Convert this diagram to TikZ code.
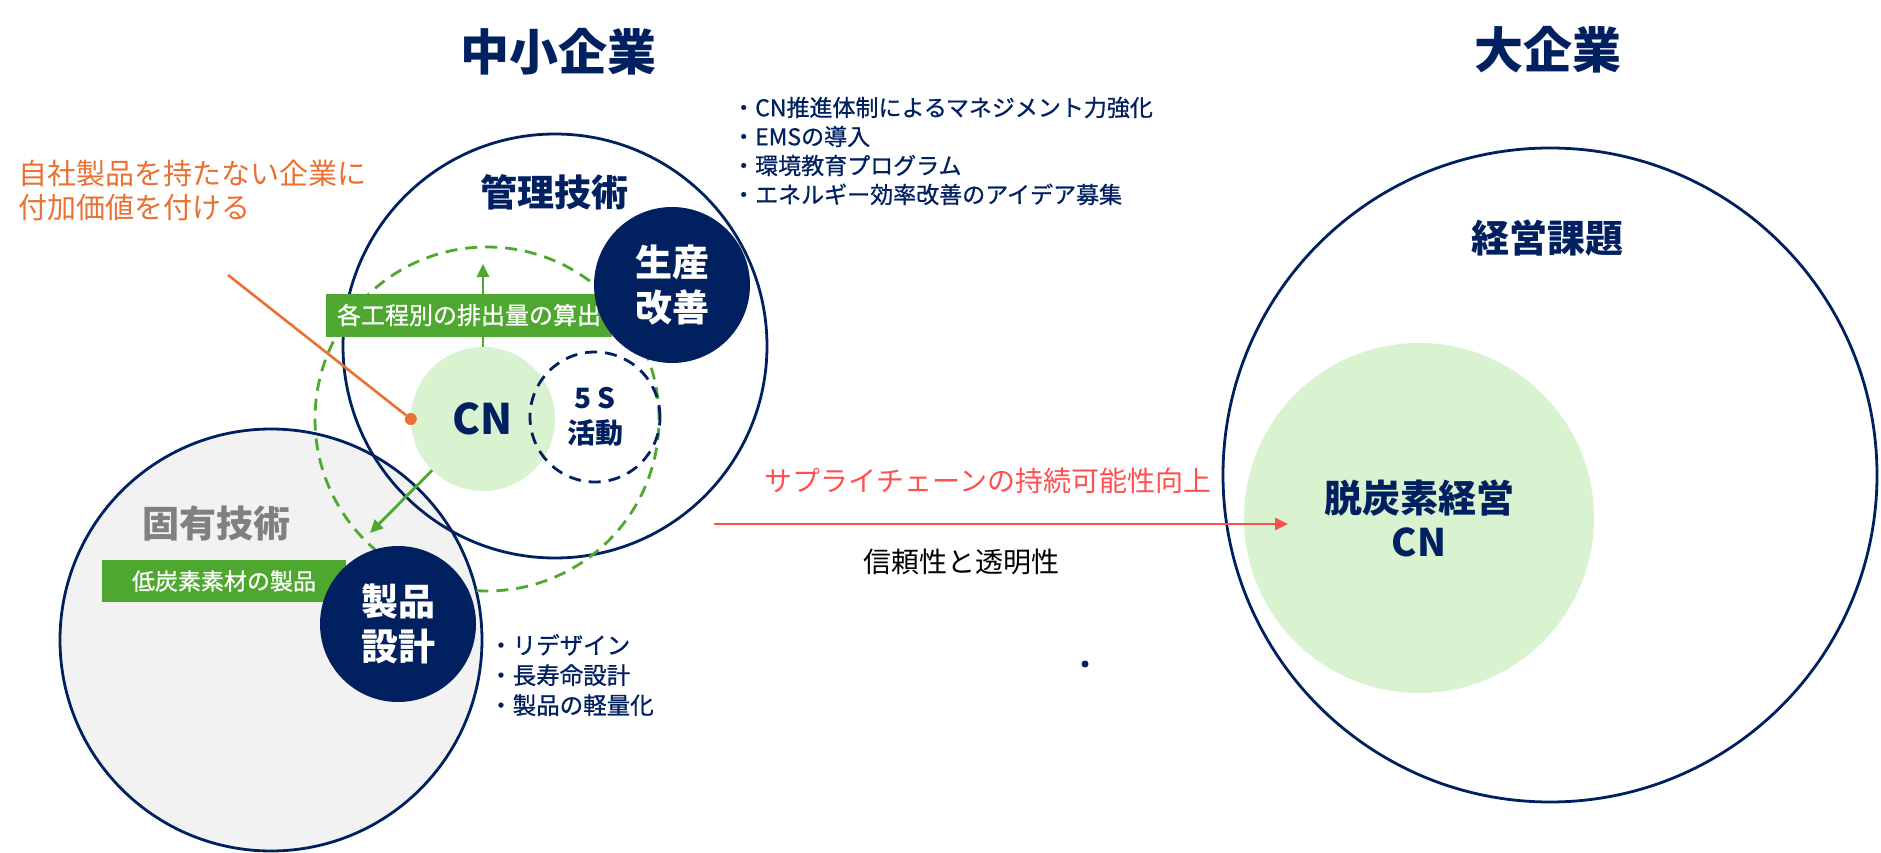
\documentclass[tikz,border=0pt]{standalone}
\usepackage{fontspec}
\setmainfont{Noto Sans CJK JP}
\newfontfamily\semibold[FakeBold=0.8]{Noto Sans CJK JP}
\usetikzlibrary{arrows.meta,positioning}

\definecolor{navy}{HTML}{002060}
\definecolor{leafgreen}{HTML}{4EA72E}
\definecolor{palegreen}{HTML}{D9F2D0}
\definecolor{carrot}{HTML}{E97132}
\definecolor{coral}{HTML}{FF5050}
\definecolor{mist}{HTML}{F2F2F2}
\definecolor{stone}{HTML}{808080}

\newcommand{\pxfont}[2]{\fontsize{#1pt}{#2pt}\selectfont}

\begin{document}
\begin{tikzpicture}[x=1pt, y=-1pt,
	ring/.style={circle, draw=navy, line width=2.8pt, inner sep=0pt},
	disc/.style={circle, fill=navy, text=white, inner sep=0pt, minimum size=156pt, align=center, font={\pxfont{37}{45}\bfseries}},
	tagbox/.style={fill=leafgreen, text=white, inner sep=0pt},
	heading/.style={text=navy, inner sep=0pt, font={\pxfont{38}{44}\bfseries}},
	bulletlist/.style={anchor=west, align=left, text=navy, inner sep=0pt},
	sprout/.style={leafgreen, line width=2.8pt, -{Triangle[length=13pt,width=12pt]}},
	leader/.style={carrot, line width=2.6pt}]

	\fill [white] (0,0) rectangle (1881,853);
	\useasboundingbox (0,0) rectangle (1881,853);

	% SME side
	\node [heading, font={\pxfont{49}{55}\bfseries}]	(SME)		at (558,52)		{中小企業};
	\node [ring, fill=mist, minimum size=422pt]	(Koyu)		at (271,640)	{};
	\node [ring, minimum size=424pt]			(Kanri)		at (555,346)	{};
	\node [circle, draw=leafgreen, line width=2.8pt, dash pattern=on 12pt off 8pt, minimum size=344pt]	(Scope)	at (487,419)	{};

	\coordinate (UpTip)	at (483,264);
	\coordinate (DownTip)	at (370,533);
	\coordinate (Lead)	at (228,275);

	\node [circle, fill=palegreen, minimum size=144pt, text=navy, font={\pxfont{42}{45}\bfseries}]	(CN)	at (483,419)	{CN}
		edge [sprout]	(UpTip)
		edge [sprout]	(DownTip);
	\node [circle, draw=navy, line width=2.8pt, dash pattern=on 12pt off 8pt, minimum size=130pt, align=center, text=navy, font={\pxfont{28}{35}\bfseries}]	(FiveS)	at (595,417)	{5 S\\活動};
	\node [circle, fill=carrot, inner sep=0pt, minimum size=12pt]	(Dot)	at (CN.west)	{}
		edge [leader]	(Lead);

	\node [tagbox, minimum width=286pt, minimum height=43pt, font={\pxfont{24}{30}\semibold}]	(Calc)	at (469,315)	{各工程別の排出量の算出};
	\node [tagbox, minimum width=244pt, minimum height=42pt, font={\pxfont{23}{28}\semibold}]	(Material)	at (224,581)	{低炭素素材の製品};
	\node [disc]	(Seisan)	at (672,285)	{生産\\改善};
	\node [disc]	(Seihin)	at (398,624)	{製品\\設計};

	\node [heading, font={\pxfont{37}{44}\bfseries}]	(KanriTitle)	at (554,192)	{管理技術};
	\node [heading, text=stone, font={\pxfont{37}{44}\bfseries}]	(KoyuTitle)	at (216,523)	{固有技術};

	\node [text=carrot, anchor=west, align=left, inner sep=0pt, font={\pxfont{29}{34}}]	(Note)	at (18,190)	{自社製品を持たない企業に\\付加価値を付ける};
	\node [bulletlist, font={\pxfont{23}{29}\semibold}]	(Measures)	at (732,151)	{・CN推進体制によるマネジメント力強化\\・EMSの導入\\・環境教育プログラム\\・エネルギー効率改善のアイデア募集};
	\node [bulletlist, font={\pxfont{23.5}{30}\semibold}]	(Design)	at (489,675)	{・リデザイン\\・長寿命設計\\・製品の軽量化};

	% large company side
	\node [heading, font={\pxfont{49}{55}\bfseries}]	(Large)		at (1548,50)	{大企業};
	\node [ring, minimum size=654pt]	(Daikigyo)	at (1550,475)	{};
	\node [circle, fill=palegreen, minimum size=350pt, align=center, text=navy, font={\pxfont{38}{44}\bfseries}]	(Datsu)	at (1419,518)	{脱炭素経営\\CN};
	\node [heading]	(Kadai)	at (1547,238)	{経営課題};

	% supply chain
	\coordinate (ChainStart)	at (714,524);
	\coordinate (ChainEnd)	at (1288,524);
	\draw [coral, line width=2.8pt, -{Triangle[length=13pt,width=12pt]}]	(ChainStart) -- (ChainEnd);
	\node [text=coral, inner sep=0pt, font={\pxfont{28}{32}}]	(Supply)	at (988,481)	{サプライチェーンの持続可能性向上};
	\node [inner sep=0pt, font={\pxfont{28}{32}}]	(Trust)		at (961,562)	{信頼性と透明性};
	\node [circle, fill=navy, inner sep=0pt, minimum size=7pt]	(Speck)	at (1085,664)	{};
\end{tikzpicture}
\end{document}
